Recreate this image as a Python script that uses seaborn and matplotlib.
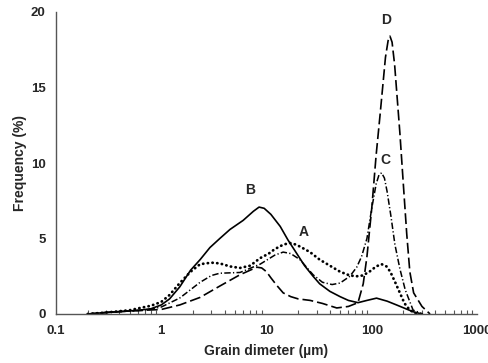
import numpy as np
import pandas as pd
import matplotlib
matplotlib.use("Agg")
import matplotlib.pyplot as plt
import seaborn as sns
from matplotlib.ticker import FixedLocator, LogLocator, NullFormatter

# 粒徑分布資料
a_x = [0.2, 0.3, 0.5, 0.63, 0.8, 1.0, 1.2, 1.5, 1.9, 2.34, 3.0, 3.6, 4.5, 5.6, 7.0, 8.7,
       10.5, 12.0, 14.5, 16.7, 19.0, 21.0, 25.9, 32.0, 40.0, 50.0, 62.0, 72.0, 82.0, 95.0,
       110.0, 124.0, 138.0, 150.0, 167.0, 185.0, 205.0, 230.0, 267.0]
a_y = [0.0, 0.1, 0.25, 0.4, 0.55, 0.8, 1.26, 2.05, 2.8, 3.3, 3.4, 3.35, 3.15, 3.05, 3.2, 3.7,
       4.0, 4.3, 4.6, 4.7, 4.6, 4.45, 4.1, 3.6, 3.2, 2.8, 2.55, 2.5, 2.55, 2.8,
       3.15, 3.3, 3.15, 2.8, 2.1, 1.4, 0.7, 0.26, 0.0]

b_x = [0.2, 0.3, 0.5, 0.63, 0.8, 1.0, 1.2, 1.5, 1.9, 2.34, 2.9, 3.6, 4.5, 6.0, 7.5, 8.5,
       9.5, 11.0, 13.5, 16.0, 19.4, 23.0, 27.7, 32.0, 40.0, 50.0, 60.0, 74.0, 90.0, 111.0,
       140.0, 172.0, 210.0, 247.0, 300.0]
b_y = [0.0, 0.1, 0.2, 0.26, 0.35, 0.6, 1.0, 1.8, 2.9, 3.6, 4.4, 5.0, 5.6, 6.2, 6.8, 7.08,
       7.0, 6.6, 5.8, 4.9, 4.0, 3.2, 2.5, 2.0, 1.5, 1.15, 0.9, 0.75, 0.9, 1.05,
       0.85, 0.6, 0.35, 0.15, 0.0]

c_x = [0.2, 0.3, 0.5, 0.7, 1.0, 1.5, 2.34, 3.0, 3.6, 5.6, 8.7, 12.0, 14.4, 17.0, 20.8,
       24.0, 27.7, 34.0, 42.0, 50.0, 62.0, 72.0, 80.0, 90.0, 100.0, 110.0, 117.0, 124.0,
       132.0, 140.0, 152.0, 166.0, 185.0, 208.0, 247.0, 306.0]
c_y = [0.0, 0.1, 0.2, 0.25, 0.46, 1.06, 2.1, 2.55, 2.7, 2.75, 3.3, 3.9, 4.1, 4.0, 3.6,
       3.1, 2.6, 2.1, 1.95, 2.05, 2.5, 3.1, 3.8, 5.0, 7.0, 8.6, 9.2, 9.35,
       9.0, 8.1, 6.5, 4.6, 3.0, 1.6, 0.26, 0.0]

d_x = [0.2, 0.3, 0.5, 0.7, 1.0, 1.5, 2.34, 3.6, 5.6, 8.1, 9.0, 10.0, 11.0, 12.5, 14.4,
       17.0, 20.0, 26.0, 34.0, 46.5, 60.0, 74.0, 83.0, 90.0, 100.0, 110.0, 120.0, 135.0,
       143.0, 149.0, 156.0, 165.0, 185.0, 200.0, 215.0, 230.0, 250.0, 300.0, 358.0]
d_y = [0.0, 0.1, 0.2, 0.25, 0.3, 0.6, 1.1, 1.85, 2.6, 3.1, 3.05, 2.8, 2.4, 1.9, 1.4,
       1.15, 1.0, 0.9, 0.7, 0.4, 0.5, 0.75, 2.0, 3.8, 7.0, 10.5, 13.2, 17.0,
       18.1, 18.4, 18.0, 16.5, 12.0, 8.5, 5.3, 2.8, 1.4, 0.5, 0.0]

labels = ["A", "B", "C", "D"]
label_x = [22.3, 7.0, 134.0, 137.0]
label_y = [5.4, 8.2, 10.2, 19.5]

sns.set_style("white")
plt.rcParams['font.family'] = ['Liberation Sans', 'DejaVu Sans']

fig = plt.figure(figsize=(4.88, 3.63), dpi=100)
ax = fig.add_axes([56 / 488, 49 / 363, 421 / 488, 302 / 363])

styles = {
    "A": dict(linestyle=(0, (0.1, 1.6)), linewidth=2.0, dash_capstyle="round"),
    "B": dict(linestyle="-", linewidth=1.2),
    "C": dict(linestyle=(0, (4.2, 1.5, 0.8, 1.5)), linewidth=1.1),
    "D": dict(linestyle=(0, (6.5, 2.4)), linewidth=1.2),
}
series = {"A": (a_x, a_y), "B": (b_x, b_y), "C": (c_x, c_y), "D": (d_x, d_y)}

for name, (xs, ys) in series.items():
    df = pd.DataFrame({"x": xs, "y": ys})
    sns.lineplot(data=df, x="x", y="y", ax=ax, color="black", estimator=None,
                 sort=False, **styles[name])

for t, tx, ty in zip(labels, label_x, label_y):
    ax.text(tx, ty, t, ha="center", va="center", fontsize=10, fontweight="bold")

ax.set_xscale("log")
ax.set_xlim(0.1, 1000)
ax.set_ylim(0, 20)
ax.xaxis.set_major_locator(FixedLocator([0.1, 1, 10, 100, 1000]))
ax.set_xticklabels(["0.1", "1", "10", "100", "1000"])
ax.xaxis.set_minor_locator(LogLocator(base=10, subs=np.arange(2, 10)))
ax.xaxis.set_minor_formatter(NullFormatter())
ax.set_yticks([0, 5, 10, 15, 20])

ax.set_xlabel("Grain dimeter (µm)", fontsize=10, fontweight="bold", labelpad=5)
ax.set_ylabel("Frequency (%)", fontsize=10, fontweight="bold", labelpad=3)

for s in ["top", "right"]:
    ax.spines[s].set_visible(False)
for s in ["left", "bottom"]:
    ax.spines[s].set_color("#555555")
    ax.spines[s].set_linewidth(1.0)

ax.tick_params(axis="both", which="major", direction="out", length=4, width=1,
               color="#555555", labelsize=9.5)
ax.tick_params(axis="x", which="major", pad=4)
ax.tick_params(axis="x", which="minor", direction="in", length=3, width=0.8,
               color="#555555", bottom=True)
for lab in ax.get_xticklabels() + ax.get_yticklabels():
    lab.set_fontweight("bold")

fig.savefig("out.png", dpi=100)
